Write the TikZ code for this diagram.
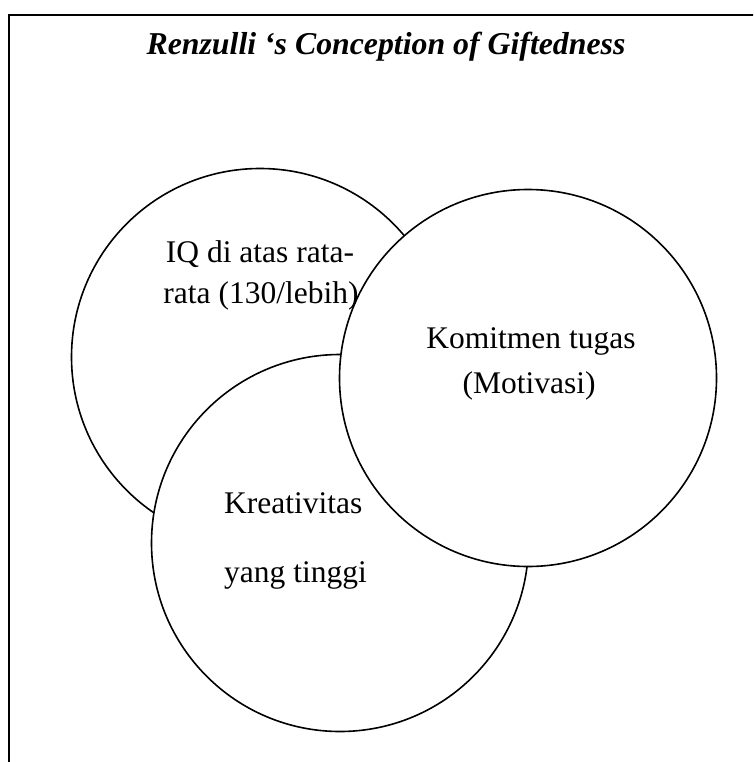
\documentclass[tikz,border=0pt]{standalone}
\usepackage{fontspec}
\setmainfont{Liberation Serif}
\begin{document}
\begin{tikzpicture}[x=1pt,y=-1pt,
  ring/.style={circle,draw=black,fill=white,line width=1.6pt,minimum size=377pt,inner sep=0pt},
  label/.style={font=\fontsize{31.5}{38}\selectfont,inner sep=0pt},
  titletext/.style={font=\fontsize{31.8}{38}\selectfont\bfseries\itshape,inner sep=0pt},
  frameline/.style={line width=2pt,draw=black}]
\useasboundingbox (0,0) rectangle (753,762);
\clip (0,0) rectangle (753,762);
% frame
\coordinate (fbl) at (9,780);
\coordinate (ftl) at (9,15);
\coordinate (ftr) at (770,15);
\draw[frameline] (fbl) -- (ftl) -- (ftr);
% title
\node[titletext,anchor=base] (title) at (386,55) {Renzulli ‘s Conception of Giftedness};
% circles
\node[ring] (iq) at (260,357) {};
\node[ring] (kreat) at (340,543) {};
\node[ring] (komit) at (528,378) {};
% texts
\node[label,anchor=base] (iq1) at (260,262) {IQ di atas rata-};
\node[label,anchor=base] (iq2) at (261,303) {rata (130/lebih)};
\node[label,anchor=base] (km1) at (531,348) {Komitmen tugas};
\node[label,anchor=base] (km2) at (529,393) {(Motivasi)};
\node[label,anchor=base west] (kr1) at (224,513) {Kreativitas};
\node[label,anchor=base west] (kr2) at (224,582) {yang tinggi};
\end{tikzpicture}
\end{document}
